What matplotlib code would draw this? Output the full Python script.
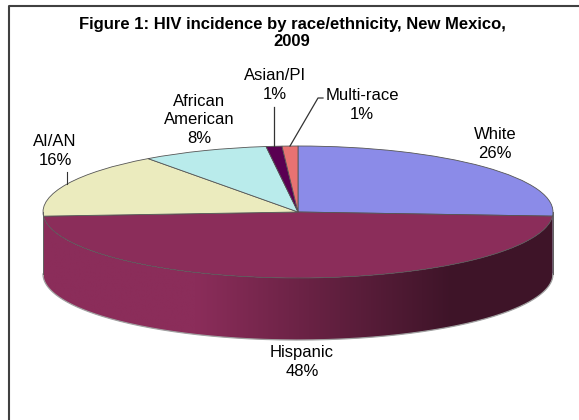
import numpy as np
import matplotlib.pyplot as plt
from matplotlib.colors import to_rgb
from matplotlib.patches import Polygon

plt.rcParams['font.family'] = ['Liberation Sans', 'DejaVu Sans']

# data
labels = ['White', 'Hispanic', 'AI/AN', 'African\nAmerican', 'Asian/PI', 'Multi-race']
pct = [26, 48, 16, 8, 1, 1]
colors = ['#8b8be8', '#8b2d5a', '#ebebbe', '#b9ebeb', '#5a0052', '#e87272']

W, H = 579, 420
cx, cy = 298, 212      # centre of the top face, pixels
rx, ry = 255, 66       # half axes of the ellipse, pixels
depth = 62 / ry        # wall height in data units

fig = plt.figure(figsize=(W / 100, H / 100), dpi=100)
ax = fig.add_axes([0, 0, 1, 1])


def to_data(px, py):
    return (px - cx) / rx, (cy - py) / ry


# top face
wedges, _ = ax.pie(pct, colors=colors, startangle=90, counterclock=False, radius=1,
                   wedgeprops=dict(edgecolor='#555555', linewidth=0.6))
for w in wedges:
    w.set_zorder(2)

# side wall (front half only), shaded darker to the right
edges = 90 - 360 * np.concatenate([[0], np.cumsum(pct)]) / 100.0
gx = np.linspace(-1, 1, 400)
shade = np.interp(gx, [-0.4, 0.6], [1.0, 0.45])
for i in range(len(pct)):
    a0 = max(edges[i + 1], -180)
    a1 = min(edges[i], 0)
    if a1 <= a0:
        continue
    t = np.radians(np.linspace(a0, a1, 200))
    top = np.column_stack([np.cos(t), np.sin(t)])
    bot = np.column_stack([np.cos(t[::-1]), np.sin(t[::-1]) - depth])
    poly = Polygon(np.vstack([top, bot]), closed=True, fc='none', ec='none',
                   transform=ax.transData)
    ax.add_patch(poly)
    img = np.array(to_rgb(colors[i]))[None, None, :] * shade[None, :, None]
    im = ax.imshow(img, extent=(-1, 1, -1 - depth, 0.1), aspect='auto',
                   interpolation='bilinear', zorder=1)
    im.set_clip_path(poly)

ax.set_aspect('auto')
ax.set_xlim(-cx / rx, (W - cx) / rx)
ax.set_ylim((cy - H) / ry, cy / ry)
ax.axis('off')

tt = np.radians(np.linspace(-180, 0, 300))
ax.plot(np.cos(tt), np.sin(tt) - depth, color='#a0a0a0', lw=0.9, zorder=3)
ax.plot([-1, -1], [0, -depth], color='#606060', lw=0.7, zorder=3)
ax.plot([1, 1], [0, -depth], color='#606060', lw=0.7, zorder=3)

# labels
lab_pos = [(495, 144), (302, 362), (55, 151), (199, 120), (275, 85), (362, 105)]
for i, (px, py) in enumerate(lab_pos):
    txt = labels[i] + '\n' + str(pct[i]) + '%'
    fig.text(px / W, 1 - py / H, txt, ha='center', va='center', fontsize=12,
             linespacing=1.28, color='black')

# leader lines
mid = np.radians((edges[:-1] + edges[1:]) / 2)
# AI/AN small tick
x, y = np.cos(mid[2]), np.sin(mid[2])
ax.plot([x, x], [y, y + 12 / ry], color='#333333', lw=0.8, zorder=3)
# Asian/PI
x, y = np.cos(mid[4]), np.sin(mid[4])
ax.plot([x, x], [y, to_data(0, 107)[1]], color='#333333', lw=0.9, zorder=3)
# Multi-race
x, y = np.cos(mid[5]), np.sin(mid[5])
lx, ly = to_data(318, 98)
ex, _ = to_data(323, 98)
ax.plot([x, lx, ex], [y, ly, ly], color='#333333', lw=0.9, zorder=3)

fig.text(292 / W, 1 - 33 / H, 'Figure 1: HIV incidence by race/ethnicity, New Mexico,\n2009',
         ha='center', va='center', fontsize=12, fontweight='bold', linespacing=1.2)

# chart frame (only top and left sides are in view)
fig.add_artist(plt.Line2D([9 / W, 9 / W, 1], [0, 1 - 6 / H, 1 - 6 / H],
                          color='#404040', lw=1.5))

fig.savefig('out.png', dpi=100)
